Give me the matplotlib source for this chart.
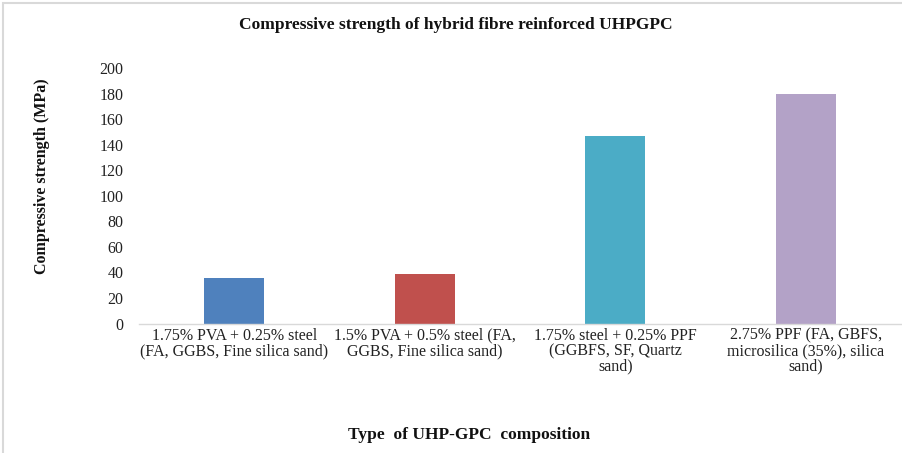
import matplotlib
matplotlib.use("Agg")
import matplotlib.pyplot as plt
from matplotlib.patches import Rectangle

categories = [
    "1.75% PVA + 0.25% steel\n(FA, GGBS, Fine silica sand)",
    "1.5% PVA + 0.5% steel (FA,\nGGBS, Fine silica sand)",
    "1.75% steel + 0.25% PPF\n(GGBFS, SF, Quartz\nsand)",
    "2.75% PPF (FA, GBFS,\nmicrosilica (35%), silica\nsand)",
]
values = [36, 39, 146.5, 180]
colors = ["#4F81BD", "#C0504D", "#4BACC6", "#B3A2C7"]
yticks = [0, 20, 40, 60, 80, 100, 120, 140, 160, 180, 200]

plt.rcParams['font.family'] = ['Liberation Serif', 'DejaVu Serif']

W, H = 902, 453
fig = plt.figure(figsize=(W / 100, H / 100), dpi=100)
fig.patch.set_facecolor("white")

# light border around the chart area
fig.patches.append(Rectangle((3 / W, -0.1), 1.2, 1 - 3 / H + 0.1, transform=fig.transFigure,
                             fill=False, edgecolor="#D9D9D9", linewidth=1.5))

ax = fig.add_axes([139 / W, 1 - 323.5 / H, (901 - 139) / W, (323.5 - 68) / H])
x = list(range(len(categories)))
ax.bar(x, values, width=0.315, color=colors, edgecolor="none")
ax.set_xlim(-0.5, len(categories) - 0.5)
ax.set_ylim(0, 200)
ax.set_yticks(yticks)
ax.set_yticklabels([str(t) for t in yticks], fontsize=11.5, color="#222222")
ax.set_xticks(x)
ax.set_xticklabels(categories, fontsize=11.5, color="#222222", linespacing=0.95)
ax.tick_params(axis="both", length=0)
ax.tick_params(axis="y", pad=11)
ax.tick_params(axis="x", pad=3)
for s in ["left", "right", "top"]:
    ax.spines[s].set_visible(False)
ax.spines["bottom"].set_color("#D9D9D9")
ax.spines["bottom"].set_linewidth(1.0)

fig.text(456 / W, 1 - 25 / H, "Compressive strength of hybrid fibre reinforced UHPGPC",
         ha="center", va="center", fontsize=12.5, fontweight="bold", color="#111111")
fig.text(42 / W, 1 - 176.5 / H, "Compressive strength (MPa)", rotation=90,
         ha="center", va="center", fontsize=11.5, fontweight="bold", color="#111111")
fig.text(469 / W, 1 - 435 / H, "Type  of UHP-GPC  composition",
         ha="center", va="center", fontsize=12.5, fontweight="bold", color="#111111")

fig.savefig("out.png", dpi=100, facecolor="white")
